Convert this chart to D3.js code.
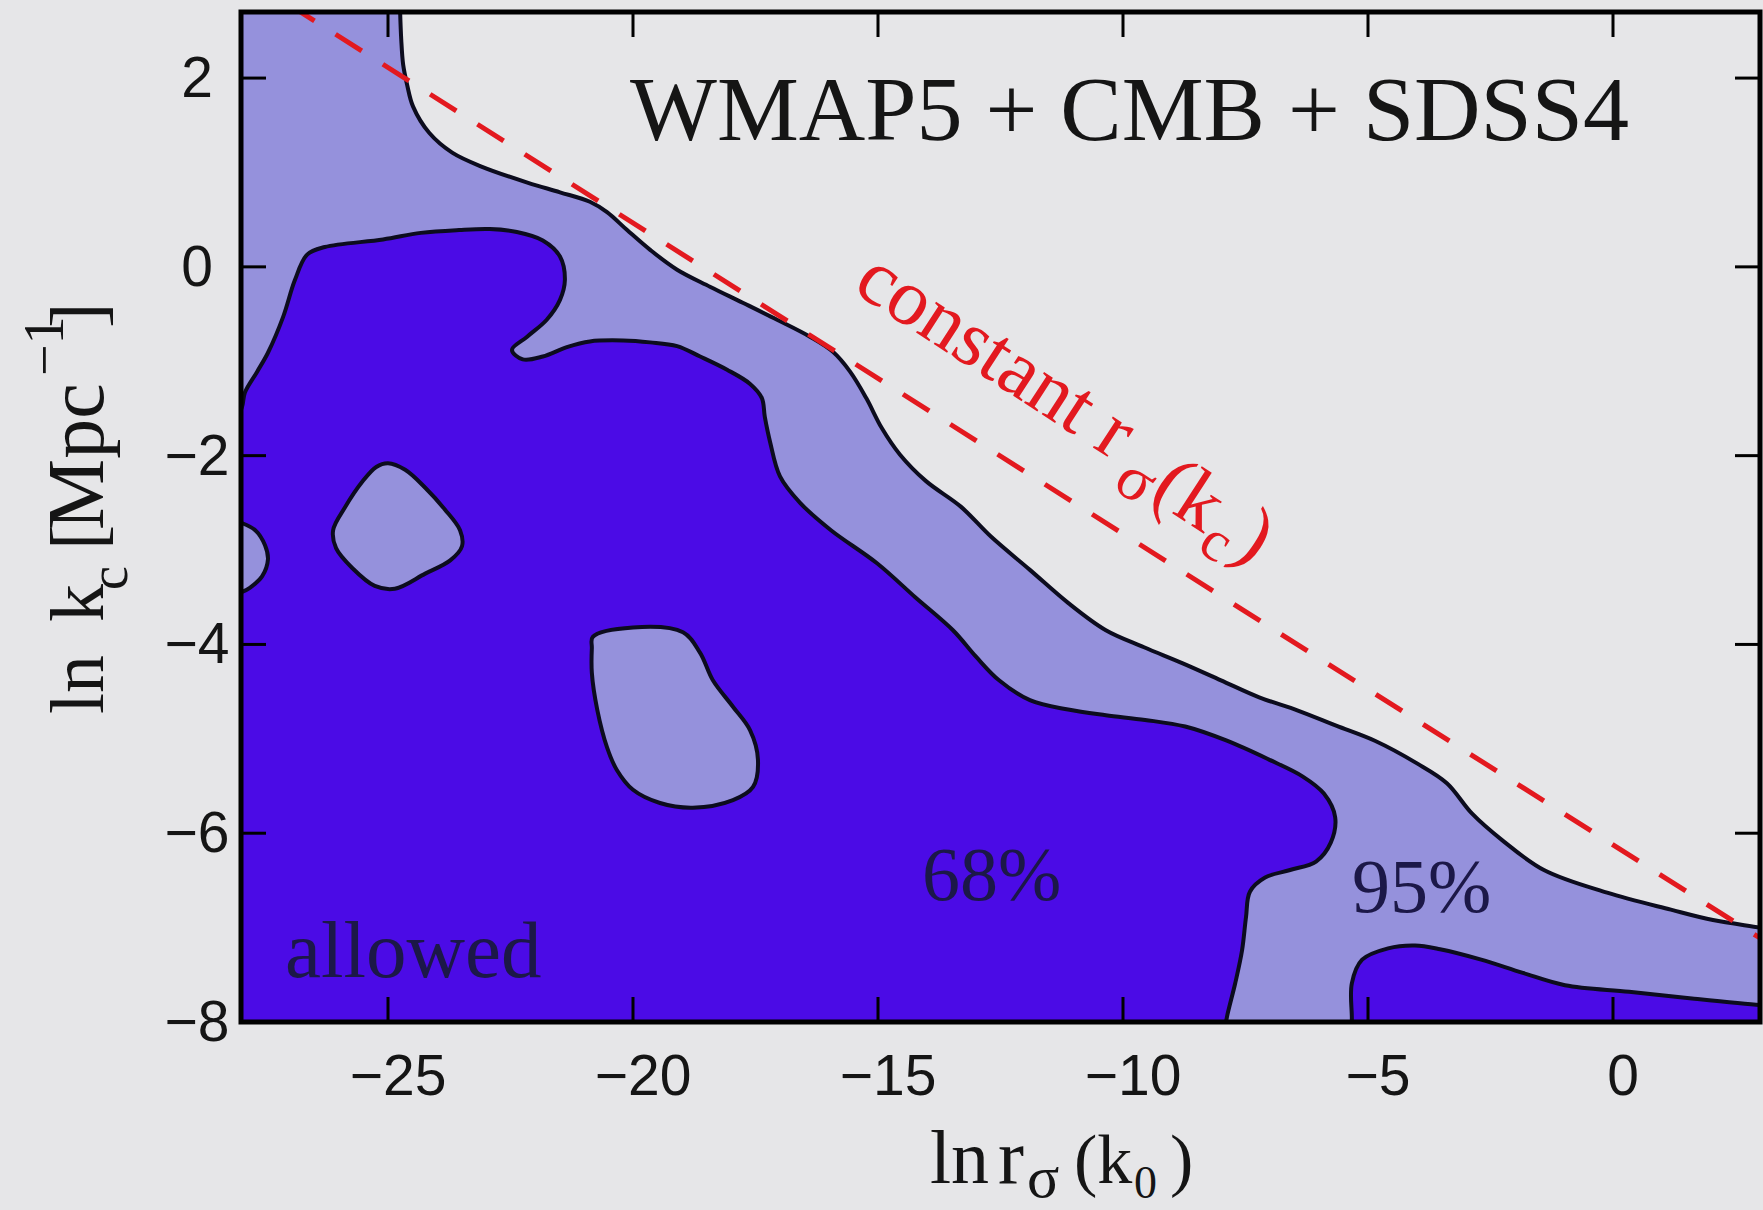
<!DOCTYPE html>
<html><head><meta charset="utf-8">
<script src="https://cdn.jsdelivr.net/npm/d3@7"></script>
<style>html,body{margin:0;padding:0;background:#e6e6e8;} svg{display:block;}</style>
</head><body>
<svg id="chart" width="1763" height="1210"></svg>
<script>
// ---------- data ----------
const xTicks = [-25, -20, -15, -10, -5, 0];
const yTicks = [-8, -6, -4, -2, 0, 2];
const xDomain = [-28, 3];
const yDomain = [-8, 2.7];

// upper edge of the 95% region (from top axis to right axis)
const contour95Upper = [[-24.76,2.83],[-24.73,2.41],[-24.69,2.14],[-24.61,1.93],[-24.49,1.70],[-24.16,1.42],[-23.69,1.21],[-23.08,1.06],[-22.14,0.89],[-21.49,0.79],[-20.88,0.69],[-20.53,0.58],[-20.12,0.39],[-19.65,0.18],[-19.10,-0.03],[-18.43,-0.21],[-17.76,-0.38],[-17.06,-0.56],[-16.39,-0.74],[-15.92,-0.90],[-15.57,-1.11],[-15.24,-1.39],[-14.92,-1.71],[-14.55,-1.99],[-14.02,-2.27],[-13.31,-2.54],[-12.69,-2.86],[-11.90,-3.21],[-11.12,-3.56],[-10.35,-3.85],[-9.57,-4.03],[-8.78,-4.20],[-8.00,-4.38],[-7.22,-4.56],[-6.43,-4.70],[-5.65,-4.86],[-4.86,-5.02],[-4.00,-5.26],[-3.39,-5.47],[-2.88,-5.79],[-2.27,-6.07],[-1.41,-6.39],[-0.12,-6.63],[1.18,-6.81],[2.04,-6.92],[3.00,-7.00],[3.31,-7.03]];

// edge of the main 68% region (from left axis to bottom axis)
const contour68Main = [[-28.33,-1.67],[-28.0,-1.51],[-27.92,-1.33],[-27.67,-1.11],[-27.45,-0.91],[-27.14,-0.53],[-26.90,-0.14],[-26.65,0.13],[-26.29,0.21],[-25.10,0.29],[-24.33,0.36],[-23.55,0.39],[-22.92,0.40],[-22.37,0.37],[-21.84,0.28],[-21.49,0.11],[-21.39,-0.14],[-21.49,-0.35],[-21.76,-0.56],[-22.16,-0.74],[-22.47,-0.88],[-22.25,-0.98],[-21.84,-0.95],[-21.35,-0.85],[-20.88,-0.79],[-20.20,-0.78],[-19.65,-0.80],[-19.10,-0.84],[-18.63,-0.95],[-18.08,-1.09],[-17.61,-1.24],[-17.37,-1.39],[-17.31,-1.59],[-17.20,-1.86],[-17.00,-2.22],[-16.59,-2.50],[-15.96,-2.79],[-15.02,-3.14],[-14.24,-3.50],[-13.47,-3.85],[-13.00,-4.13],[-12.53,-4.38],[-11.90,-4.59],[-11.12,-4.69],[-10.35,-4.75],[-9.55,-4.80],[-8.73,-4.87],[-7.88,-5.02],[-7.02,-5.22],[-6.33,-5.40],[-5.90,-5.58],[-5.67,-5.83],[-5.76,-6.10],[-6.06,-6.30],[-6.59,-6.39],[-7.10,-6.47],[-7.41,-6.62],[-7.49,-6.89],[-7.57,-7.24],[-7.71,-7.59],[-7.88,-7.95],[-7.94,-8.14]];

// second 68% region in the lower-right corner
const contour68Corner = [[-5.33,-8.14],[-5.33,-7.95],[-5.33,-7.59],[-5.12,-7.34],[-4.59,-7.22],[-4.04,-7.19],[-3.53,-7.23],[-2.69,-7.34],[-1.84,-7.48],[-0.98,-7.61],[0.33,-7.68],[1.61,-7.75],[3.00,-7.82],[3.31,-7.83]];

// 95%-only islands inside the 68% region
const island1 = [[-25.00,-2.08],[-24.65,-2.15],[-24.24,-2.34],[-23.84,-2.57],[-23.53,-2.79],[-23.49,-2.96],[-23.73,-3.11],[-24.24,-3.25],[-24.86,-3.41],[-25.27,-3.38],[-25.73,-3.19],[-26.06,-2.98],[-26.12,-2.79],[-25.88,-2.55],[-25.53,-2.28],[-25.24,-2.12]];
const island2 = [[-20.82,-3.92],[-20.00,-3.82],[-18.98,-3.87],[-18.63,-4.09],[-18.37,-4.38],[-17.96,-4.66],[-17.61,-4.91],[-17.45,-5.22],[-17.55,-5.51],[-17.96,-5.65],[-18.78,-5.73],[-19.45,-5.68],[-20.00,-5.54],[-20.33,-5.33],[-20.53,-5.09],[-20.73,-4.69],[-20.84,-4.30],[-20.84,-4.04]];
const notchLeft = [[-28.33,-2.66],[-28.0,-2.71],[-27.71,-2.79],[-27.51,-2.95],[-27.45,-3.10],[-27.57,-3.28],[-27.82,-3.40],[-28.0,-3.45],[-28.33,-3.51]];

// constant r_sigma(k_c) line
const constantLineX = [-28, 3];
const constantLineY = [3.10, -7.11];

// ---------- drawing ----------
const C = {bg:"#e6e6e8", light:"#9591dc", dark:"#4b0be6", edge:"#0c0c1e", red:"#e3191f", text:"#151515", note:"#1c1848"};
const M = {l:241, t:12, r:1760, b:1022};
const svg = d3.select("#chart");
const x = d3.scaleLinear().domain(xDomain).range([M.l, M.r]);
const y = d3.scaleLinear().domain(yDomain).range([M.b, M.t]);

svg.append("rect").attr("width",1763).attr("height",1210).attr("fill",C.bg);
svg.append("defs").append("clipPath").attr("id","clip")
  .append("rect").attr("x",M.l).attr("y",M.t).attr("width",M.r-M.l).attr("height",M.b-M.t);

const plot = svg.append("g").attr("clip-path","url(#clip)");
const curve = d3.line().x(d=>x(d[0])).y(d=>y(d[1])).curve(d3.curveCatmullRom.alpha(0.5));
const closedCurve = d3.line().x(d=>x(d[0])).y(d=>y(d[1])).curve(d3.curveCatmullRomClosed.alpha(0.5));
const xLo = xDomain[0]-1, xHi = xDomain[1]+1, yLo = yDomain[0]-1, yHi = yDomain[1]+1;
function fillPath(pts, closure){
  return curve(pts) + closure.map(p=>"L"+x(p[0])+","+y(p[1])).join("") + "Z";
}
const first = a => a[0], last = a => a[a.length-1];
const EW = 4;

// 95% region
plot.append("path").attr("fill",C.light)
  .attr("d", fillPath(contour95Upper, [[xHi,last(contour95Upper)[1]],[xHi,yLo],[xLo,yLo],[xLo,yHi],[first(contour95Upper)[0],yHi]]));
// 68% main
plot.append("path").attr("fill",C.dark)
  .attr("d", fillPath(contour68Main, [[last(contour68Main)[0],yLo],[xLo,yLo],[xLo,first(contour68Main)[1]]]));
// 68% corner
plot.append("path").attr("fill",C.dark)
  .attr("d", fillPath(contour68Corner, [[xHi,last(contour68Corner)[1]],[xHi,yLo],[first(contour68Corner)[0],yLo]]));
// islands
[island1, island2].forEach(isl=>{
  plot.append("path").attr("fill",C.light).attr("stroke",C.edge).attr("stroke-width",EW).attr("d", closedCurve(isl));
});
plot.append("path").attr("fill",C.light)
  .attr("d", fillPath(notchLeft, [[xLo,last(notchLeft)[1]],[xLo,first(notchLeft)[1]]]));
// contour edges
[contour95Upper, contour68Main, contour68Corner, notchLeft].forEach(c=>{
  plot.append("path").attr("fill","none").attr("stroke",C.edge).attr("stroke-width",EW).attr("d", curve(c));
});
// dashed line
plot.append("path").attr("fill","none").attr("stroke",C.red).attr("stroke-width",5)
  .attr("stroke-dasharray","31,25")
  .attr("d", d3.line().x(d=>x(d[0])).y(d=>y(d[1]))(constantLineX.map((v,i)=>[v,constantLineY[i]])));

// frame
svg.append("rect").attr("x",M.l).attr("y",M.t).attr("width",M.r-M.l).attr("height",M.b-M.t)
  .attr("fill","none").attr("stroke","#000").attr("stroke-width",5);

// ticks (inward, all four sides)
const tl = 25;
const tg = svg.append("g").attr("stroke","#000").attr("stroke-width",3);
xTicks.forEach(v=>{
  tg.append("line").attr("x1",x(v)).attr("x2",x(v)).attr("y1",M.b).attr("y2",M.b-tl);
  tg.append("line").attr("x1",x(v)).attr("x2",x(v)).attr("y1",M.t).attr("y2",M.t+tl);
});
yTicks.forEach(v=>{
  tg.append("line").attr("y1",y(v)).attr("y2",y(v)).attr("x1",M.l).attr("x2",M.l+tl);
  tg.append("line").attr("y1",y(v)).attr("y2",y(v)).attr("x1",M.r).attr("x2",M.r-tl);
});
const fmt = v => (v<0 ? "\u2212"+Math.abs(v) : String(v));
const sans = "'Liberation Sans', Arial, Helvetica, sans-serif";
const serif = "'Liberation Serif', 'Times New Roman', serif";
svg.append("g").selectAll("text").data(xTicks).join("text")
  .attr("x",d=>x(d)+10).attr("y",M.b+73).attr("text-anchor","middle")
  .attr("font-family",sans).attr("font-size",57).attr("fill",C.text).text(fmt);
svg.append("g").selectAll("text").data(yTicks).join("text")
  .attr("x",197).attr("y",d=>y(d)+19).attr("text-anchor","middle")
  .attr("font-family",sans).attr("font-size",57).attr("fill",C.text).text(fmt);

// title
svg.append("text").attr("x",630).attr("y",140).attr("font-family",serif).attr("font-size",92)
  .attr("fill",C.text).attr("textLength",999).attr("lengthAdjust","spacingAndGlyphs")
  .text("WMAP5 + CMB + SDSS4");

// region labels
svg.append("text").attr("x",922).attr("y",900).attr("font-family",serif).attr("font-size",76).attr("fill",C.note).text("68%");
svg.append("text").attr("x",1352).attr("y",912).attr("font-family",serif).attr("font-size",76).attr("fill",C.note).text("95%");
svg.append("text").attr("x",285).attr("y",977).attr("font-family",serif).attr("font-size",81).attr("fill",C.note).text("allowed");

// constant r label (rotated along the dashed line)
const lab = svg.append("text").attr("font-family",serif).attr("fill",C.red)
  .attr("transform",`translate(${x(-15.55)},${y(-0.25)}) rotate(33)`);
lab.append("tspan").attr("font-size",80).text("constant r");
lab.append("tspan").attr("font-size",64).attr("dx",12).attr("dy",24).text("\u03c3");
lab.append("tspan").attr("font-size",80).attr("dx",2).attr("dy",-12).text("(k");
lab.append("tspan").attr("font-size",58).attr("dx",2).attr("dy",18).text("c");
lab.append("tspan").attr("font-size",80).attr("dx",4).attr("dy",-18).text(")");

// x axis title
const xt = svg.append("text").attr("font-family",serif).attr("fill",C.text);
xt.append("tspan").attr("x",930).attr("y",1183).attr("font-size",76).text("ln");
xt.append("tspan").attr("x",998).attr("y",1183).attr("font-size",78).text("r");
xt.append("tspan").attr("x",1027).attr("y",1197).attr("font-size",60).text("\u03c3");
xt.append("tspan").attr("x",1074).attr("y",1183).attr("font-size",70).text("(k");
xt.append("tspan").attr("x",1134).attr("y",1198).attr("font-size",46).text("0");
xt.append("tspan").attr("x",1170).attr("y",1183).attr("font-size",70).text(")");

// y axis title
const yt = svg.append("text").attr("font-family",serif).attr("fill",C.text)
  .attr("transform","translate(103,714) rotate(-90)");
yt.append("tspan").attr("x",0).attr("y",0).attr("font-size",76).text("ln");
yt.append("tspan").attr("x",92).attr("y",0).attr("font-size",76).text("k");
yt.append("tspan").attr("x",124).attr("y",24).attr("font-size",54).text("c");
yt.append("tspan").attr("x",164).attr("y",0).attr("font-size",76).text("[");
yt.append("tspan").attr("x",184).attr("y",0).attr("font-size",80).text("Mpc");
yt.append("tspan").attr("x",338).attr("y",-40).attr("font-size",56).text("\u22121");
yt.append("tspan").attr("x",386).attr("y",0).attr("font-size",76).text("]");
</script>
</body></html>
